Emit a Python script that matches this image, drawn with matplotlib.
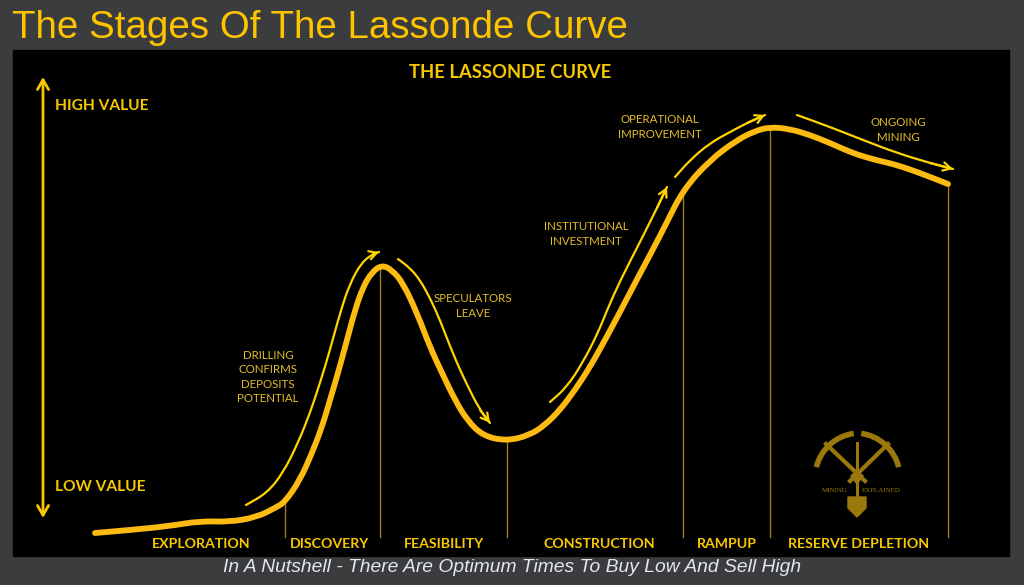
#!/usr/bin/env python3
"""Lassonde curve sketch: stages of a mining company's value over its life."""
import matplotlib
matplotlib.use('Agg')
import matplotlib.pyplot as plt
import numpy as np
from matplotlib.patches import Arc, PathPatch, Polygon, Rectangle
from matplotlib.path import Path

# main curve (pixel-ish units, y grows downward)
curve_x = [95, 130, 170, 200, 230, 257, 275, 285, 300, 312, 322, 330, 338, 347,
           355, 363, 372, 382, 392, 403, 417, 430, 442, 455, 467, 483, 507, 530,
           545, 560, 575, 590, 605, 620, 635, 650, 665, 683, 710, 737, 755, 770,
           790, 810, 830, 850, 865, 880, 897, 920, 948]
curve_y = [533, 530, 526, 521, 522, 517, 508, 502, 480, 453, 427, 400, 373, 340,
           310, 287, 272, 265, 270, 283, 313, 347, 373, 400, 420, 436, 441, 435,
           425, 410, 390, 367, 340, 312, 283, 255, 226, 190, 160, 140, 131, 127,
           129, 135, 143, 152, 157, 161, 165, 173, 184]

# thin arrows that run alongside the curve
drill_x = [246, 267, 283, 298, 310, 320, 330, 340, 350, 362, 373, 379]
drill_y = [505, 493, 473, 443, 413, 383, 350, 313, 283, 262, 254, 252]
spec_x = [398, 410, 420, 430, 440, 453, 467, 480, 490]
spec_y = [259, 268, 280, 298, 320, 354, 385, 410, 423]
inst_x = [550, 567, 583, 597, 608, 620, 640, 657, 667]
inst_y = [402, 387, 362, 335, 308, 281, 242, 208, 187]
oper_x = [675, 690, 710, 730, 747, 765]
oper_y = [177, 160, 143, 132, 123, 115]
ongo_x = [797, 830, 863, 897, 930, 953]
ongo_y = [115, 127, 140, 153, 163, 169]

# stage boundaries and stage names
divider_x = [285, 380, 507, 683, 770, 948]
stage_names = ['EXPLORATION', 'DISCOVERY', 'FEASIBILITY', 'CONSTRUCTION',
               'RAMPUP', 'RESERVE DEPLETION']
stage_x = [201, 330, 444, 599, 727, 859]

# small annotations: text, x, y
notes = [
    ('DRILLING\nCONFIRMS\nDEPOSITS\nPOTENTIAL', 268, 377),
    ('SPECULATORS\nLEAVE', 473, 306),
    ('INSTITUTIONAL\nINVESTMENT', 586, 234),
    ('OPERATIONAL\nIMPROVEMENT', 660, 127),
    ('ONGOING\nMINING', 898, 130),
]

BG = '#3b3c3e'
GOLD = '#fdbb12'
YELLOW = '#ffd400'
LABEL = '#f7c800'
NOTE = '#e3bd2c'
DIV = '#9c7a22'
LOGO = '#9a780c'


def smooth_path(xs, ys):
    # traced points become quadratic control points, joined at midpoints
    pts = list(zip(xs, ys))
    verts = [pts[0]]
    codes = [Path.MOVETO]
    mid = ((pts[0][0] + pts[1][0]) / 2, (pts[0][1] + pts[1][1]) / 2)
    verts.append(mid)
    codes.append(Path.LINETO)
    for i in range(1, len(pts) - 1):
        nxt = ((pts[i][0] + pts[i + 1][0]) / 2, (pts[i][1] + pts[i + 1][1]) / 2)
        verts += [pts[i], nxt]
        codes += [Path.CURVE3, Path.CURVE3]
    verts.append(pts[-1])
    codes.append(Path.LINETO)
    return Path(verts, codes)


def thin_arrow(ax, xs, ys):
    ax.add_patch(PathPatch(smooth_path(xs, ys), fill=False, ec=YELLOW, lw=1.6,
                           capstyle='round', zorder=3))
    ax.annotate('', xy=(xs[-1], ys[-1]), xytext=(xs[-2], ys[-2]),
                arrowprops=dict(arrowstyle='->,head_length=0.55,head_width=0.3',
                                color=YELLOW, lw=1.6, shrinkA=0, shrinkB=0),
                zorder=3)


def draw_logo(ax):
    # two crossed picks, a shovel, and the name
    ax.add_patch(Arc((860, 478), 90, 90, theta1=194, theta2=262,
                     color=LOGO, lw=4, zorder=2))
    ax.add_patch(Arc((855, 478), 90, 90, theta1=278, theta2=346,
                     color=LOGO, lw=4, zorder=2))
    ax.plot([826, 865], [444, 481], color=LOGO, lw=3, zorder=2)
    ax.plot([888, 850], [444, 481], color=LOGO, lw=3, zorder=2)
    ax.add_patch(Polygon([(851, 476), (857, 470), (863, 476), (857, 484)],
                         closed=True, color=LOGO, zorder=2))
    ax.plot([857, 857], [443, 499], color=LOGO, lw=2.2, zorder=2)
    ax.add_patch(Polygon([(848, 497), (866, 497), (866, 508), (857, 517), (848, 508)],
                         closed=True, color=LOGO, zorder=2))
    ax.text(835, 491, 'MINING', color=LOGO, fontsize=5, family='Liberation Serif',
            ha='center', va='center')
    ax.text(881, 491, 'EXPLAINED', color=LOGO, fontsize=5, family='Liberation Serif',
            ha='center', va='center')


def main():
    fig = plt.figure(figsize=(10.24, 5.85), dpi=100, facecolor=BG)
    ax = fig.add_axes([0, 0, 1, 1])
    ax.set_xlim(0, 1024)
    ax.set_ylim(585, 0)
    ax.axis('off')

    ax.add_patch(Rectangle((13, 50), 996, 506, color='black', zorder=0))

    fig.text(12 / 1024, 1 - 28 / 585, 'The Stages Of The Lassonde Curve',
             color='#ffc400', fontsize=27.7, family='Liberation Sans',
             ha='left', va='center')
    ax.text(510, 73, 'THE LASSONDE CURVE', color=LABEL, fontsize=13.2,
            family='Lato', weight='bold', ha='center', va='center')

    # value axis
    ax.annotate('', xy=(43, 77), xytext=(43, 518),
                arrowprops=dict(arrowstyle='<->,head_length=0.7,head_width=0.4',
                                color=LABEL, lw=2, shrinkA=0, shrinkB=0))
    ax.text(55, 106, 'HIGH VALUE', color=LABEL, fontsize=11.2, family='Lato',
            weight='bold', ha='left', va='center')
    ax.text(55, 487, 'LOW VALUE', color=LABEL, fontsize=11.2, family='Lato',
            weight='bold', ha='left', va='center')

    # stage dividers, from the curve down to the floor
    tops = np.interp(divider_x, curve_x, curve_y)
    for x, top in zip(divider_x, tops):
        ax.plot([x, x], [top, 537], color=DIV, lw=1, zorder=1)

    ax.add_patch(PathPatch(smooth_path(curve_x, curve_y), fill=False, ec=GOLD,
                           lw=4.2, capstyle='round', joinstyle='round', zorder=4))

    for xs, ys in [(drill_x, drill_y), (spec_x, spec_y), (inst_x, inst_y),
                   (oper_x, oper_y), (ongo_x, ongo_y)]:
        thin_arrow(ax, xs, ys)

    for text, x, y in notes:
        ax.text(x, y, text, color=NOTE, fontsize=8.3, family='Lato',
                ha='center', va='center', linespacing=1.35)

    for name, x in zip(stage_names, stage_x):
        ax.text(x, 544, name, color=LABEL, fontsize=10.2, family='Lato',
                weight='bold', ha='center', va='center')

    draw_logo(ax)

    ax.text(512, 568, 'In A Nutshell - There Are Optimum Times To Buy Low And Sell High',
            color='#e4e8ee', fontsize=13.9, family='Liberation Sans', style='italic',
            ha='center', va='center')

    fig.savefig('out.png', dpi=100, facecolor=BG)


if __name__ == '__main__':
    main()
